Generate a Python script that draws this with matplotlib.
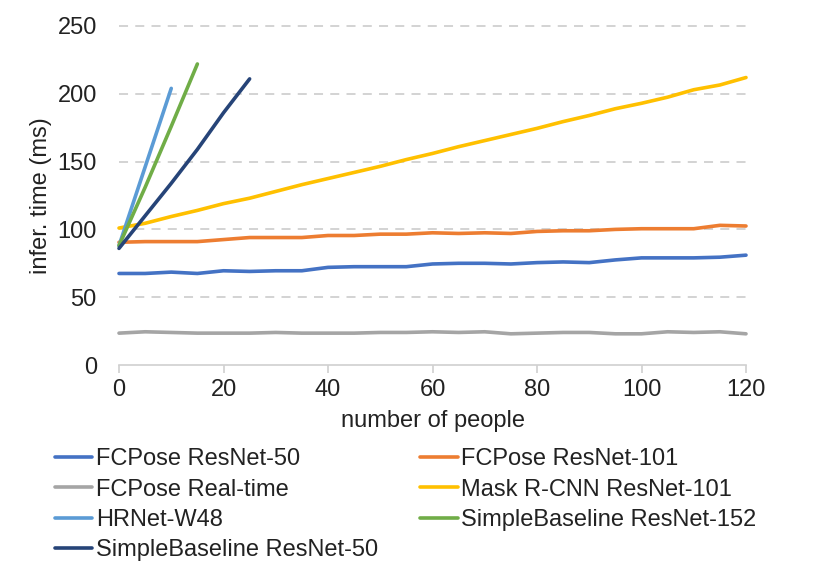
import matplotlib.pyplot as plt

# du lieu doc tu hinh
people = list(range(0, 125, 5))
fcpose_r50 = [67.5, 67.5, 68.5, 67.5, 69.5, 69, 69.5, 69.5, 72, 72.5, 72.5, 72.5, 74.5,
              75, 75, 74.5, 75.5, 76, 75.5, 77.5, 79, 79, 79, 79.5, 81]
fcpose_r101 = [90.5, 91, 91, 91, 92.5, 94, 94, 94, 95.5, 95.5, 96.5, 96.5, 97.5,
               97, 97.5, 97, 98.5, 99, 99, 100, 100.5, 100.5, 100.5, 103, 102.5]
fcpose_rt = [23.5, 24.5, 24, 23.5, 23.5, 23.5, 24, 23.5, 23.5, 23.5, 24, 24, 24.5,
             24, 24.5, 23, 23.5, 24, 24, 23, 23, 24.5, 24, 24.5, 23]
mask_rcnn = [101, 104.5, 109.5, 114, 119, 123, 128, 133, 137.5, 142, 146.5, 151.5, 156,
             161, 165.5, 170, 174.5, 179.5, 184, 189, 193, 197.5, 203, 206.5, 212]
hrnet_x = [0, 5, 10]
hrnet = [88, 146, 204]
sb152_x = [0, 5, 10, 15]
sb152 = [88, 131, 176, 222]
sb50_x = [0, 5, 10, 15, 20, 25]
sb50 = [86, 110, 134, 159, 186, 211]

xticks = [0, 20, 40, 60, 80, 100, 120]
yticks = [0, 50, 100, 150, 200, 250]

plt.rcParams['font.family'] = ['Liberation Sans', 'DejaVu Sans']
fs = 17

fig = plt.figure(figsize=(8.3, 5.71), dpi=100)
ax = fig.add_axes([119 / 830, 1 - 365 / 571, (746 - 119) / 830, (365 - 26) / 571])

lw = 2.6
ax.plot(people, fcpose_r50, color='#4472C4', lw=lw, label='FCPose ResNet-50')
ax.plot(people, fcpose_r101, color='#ED7D31', lw=lw, label='FCPose ResNet-101')
ax.plot(people, fcpose_rt, color='#A5A5A5', lw=lw, label='FCPose Real-time')
ax.plot(people, mask_rcnn, color='#FFC000', lw=lw, label='Mask R-CNN ResNet-101')
ax.plot(hrnet_x, hrnet, color='#5B9BD5', lw=lw, label='HRNet-W48')
ax.plot(sb152_x, sb152, color='#70AD47', lw=lw, label='SimpleBaseline ResNet-152')
ax.plot(sb50_x, sb50, color='#264478', lw=lw, label='SimpleBaseline ResNet-50')

ax.set_xlim(0, 120)
ax.set_ylim(0, 250)
ax.set_xticks(xticks)
ax.set_yticks(yticks)
for y in yticks[1:]:
    ax.axhline(y, color='#D0D0D0', lw=1.3, ls=(0, (5, 4)), zorder=0)

for s in ['top', 'right', 'left']:
    ax.spines[s].set_visible(False)
ax.spines['bottom'].set_color('#D0D0D0')
ax.spines['bottom'].set_linewidth(1.2)
ax.tick_params(axis='x', colors='#D0D0D0', length=6, width=1.2, labelcolor='#222222',
               labelsize=fs, pad=4)
ax.tick_params(axis='y', length=0, labelcolor='#222222', labelsize=fs, pad=16)
for line in ax.lines:
    line.set_clip_on(False)
    line.set_solid_capstyle('round')

ax.set_xlabel('number of people', fontsize=fs, color='#222222', labelpad=6.5)
ax.set_ylabel('infer. time (ms)', fontsize=fs, color='#222222', labelpad=4)

h, l = ax.get_legend_handles_labels()
order = [0, 2, 4, 6, 1, 3, 5]
fig.legend([h[i] for i in order], [l[i] for i in order], ncol=2, frameon=False,
           fontsize=fs, loc='upper left', bbox_to_anchor=(34 / 830, 1 - 427 / 571),
           handlelength=1.57, handletextpad=0.15, columnspacing=1.8, labelspacing=0.35,
           labelcolor='#222222')

fig.savefig('out.png', dpi=100)
